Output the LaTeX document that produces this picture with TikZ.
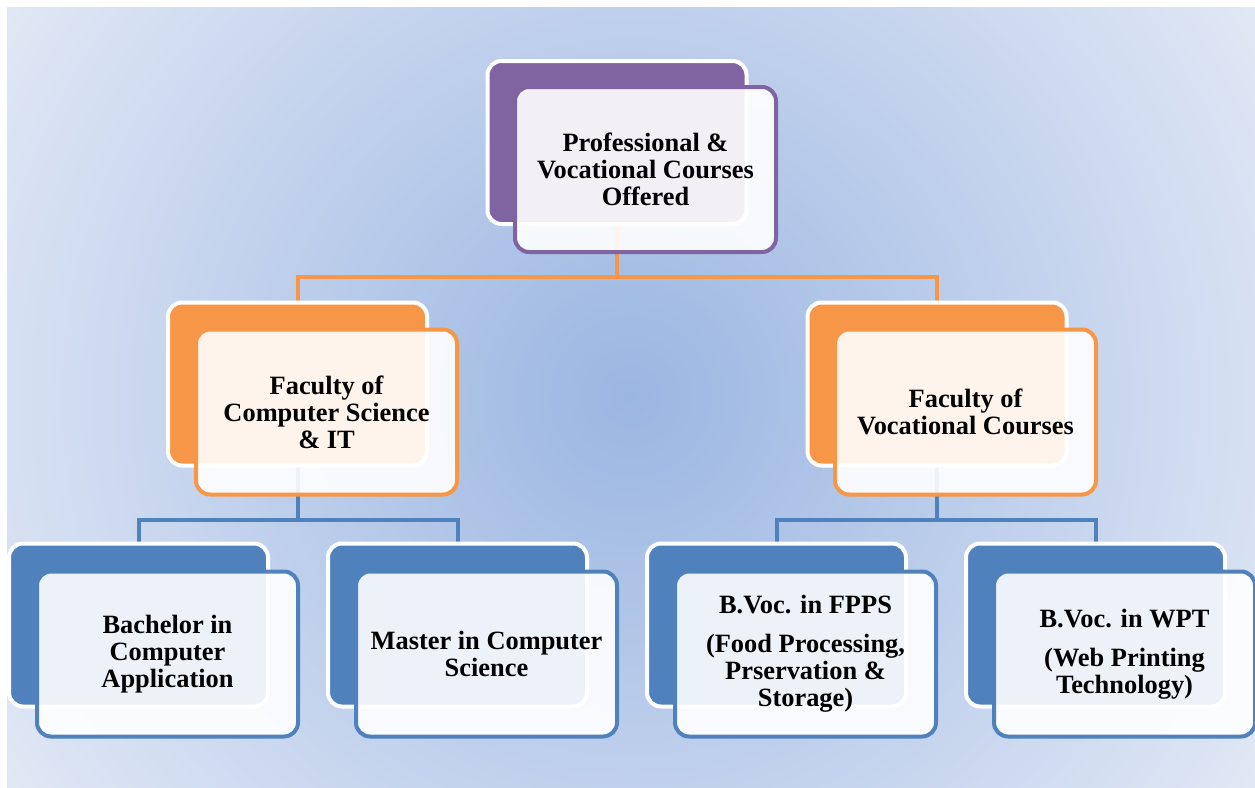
\documentclass[tikz,border=0pt]{standalone}
\usepackage{fontspec}
\setmainfont{Liberation Serif}
\pgfdeclarelayer{bgl}
\pgfdeclarelayer{conn}
\pgfsetlayers{bgl,conn,main}
\definecolor{purp}{RGB}{128,100,162}
\definecolor{orng}{RGB}{247,150,70}
\definecolor{blu}{RGB}{79,129,189}
\definecolor{bgin}{RGB}{155,182,226}
\definecolor{bgout}{RGB}{225,232,245}
\tikzset{
  backbox/.style={draw=white, fill=#1, line width=4pt, rounded corners=14pt,
    minimum width=259pt, minimum height=163pt, inner sep=0pt},
  frontbox/.style={draw=#1, fill=white, fill opacity=0.9, text opacity=1,
    line width=4pt, rounded corners=14pt, minimum width=261pt, minimum height=165pt,
    inner sep=0pt, align=center, text=black,
    font=\fontsize{26.4}{27}\selectfont\bfseries},
  link/.style={draw=#1, line width=4pt},
}
\begin{document}
\begin{tikzpicture}[x=1pt,y=-1pt]
\useasboundingbox (0,0) rectangle (1255,787);
\begin{pgfonlayer}{bgl}
  \fill[white] (0,0) rectangle (1255,787);
  \begin{scope}
    \clip (7,7) rectangle (1255,787);
    \foreach \i in {0,...,119} {
      \pgfmathsetmacro\rr{742*(1-\i/120)}
      \pgfmathsetmacro\pp{100*\i/120}
      \fill[bgin!\pp!bgout] (631,397) circle[radius=\rr pt];
    }
  \end{scope}
\end{pgfonlayer}

% top
\node[backbox=purp] (topB) at (617,142.5) {};
\node[frontbox=purp] (topF) at (645.5,169.5) {Professional \&\\Vocational Courses\\Offered};

% level 2
\node[backbox=orng] (fcsB) at (297.5,384) {};
\node[frontbox=orng] (fcsF) at (326.5,412) {Faculty of\\Computer Science\\\& IT};
\node[backbox=orng] (fvcB) at (937,384) {};
\node[frontbox=orng] (fvcF) at (965.5,412) {Faculty of\\Vocational Courses};

% level 3
\node[backbox=blu] (bcaB) at (138.5,625) {};
\node[frontbox=blu] (bcaF) at (167.5,654) {Bachelor in\\Computer\\Application};
\node[backbox=blu] (mcsB) at (457.5,625) {};
\node[frontbox=blu] (mcsF) at (486.5,654) {Master in Computer\\Science};
\node[backbox=blu] (fppsB) at (776.5,625) {};
\node[frontbox=blu] (fppsF) at (805.5,654) {B.Voc. in FPPS\\[12pt](Food Processing,\\Prservation \&\\Storage)};
\node[backbox=blu] (wptB) at (1095.5,625) {};
\node[frontbox=blu] (wptF) at (1124.5,654) {B.Voc. in WPT\\[12pt](Web Printing\\Technology)};

\coordinate (j0) at (617,277);
\coordinate (j1) at (297.5,520);
\coordinate (j2) at (937,520);
\begin{pgfonlayer}{conn}
  \draw[link=orng] (topB.center) -- (j0);
  \draw[link=orng] (fcsB.center) |- (j0) -| (fvcB.center);
  \draw[link=blu] (fcsB.center) -- (j1);
  \draw[link=blu] (bcaB.center) |- (j1) -| (mcsB.center);
  \draw[link=blu] (fvcB.center) -- (j2);
  \draw[link=blu] (fppsB.center) |- (j2) -| (wptB.center);
\end{pgfonlayer}
\end{tikzpicture}
\end{document}
